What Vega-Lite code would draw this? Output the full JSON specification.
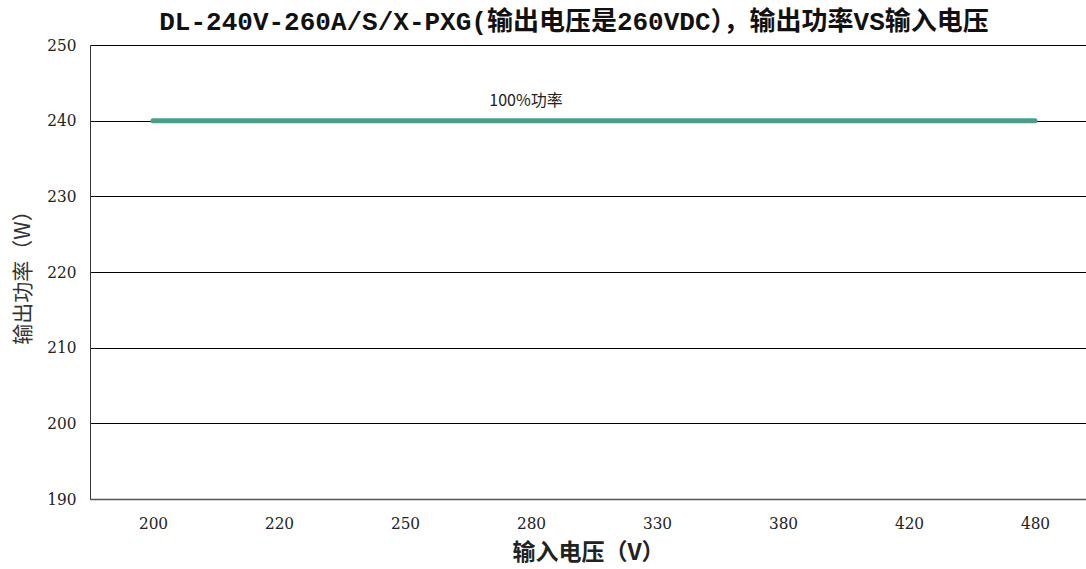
{
  "$schema": "https://vega.github.io/schema/vega-lite/v6.json",
  "autosize": "none",
  "width": 996,
  "height": 454,
  "padding": {"left": 90, "top": 45, "right": 0, "bottom": 70},
  "background": "white",
  "title": {
    "text": "DL-240V-260A/S/X-PXG(输出电压是260VDC），输出功率VS输入电压",
    "font": "Liberation Mono, Noto Sans CJK SC",
    "fontSize": 26,
    "fontWeight": "bold",
    "color": "#111111",
    "anchor": "middle",
    "offset": 1,
    "dx": -14
  },
  "data": {
    "values": [
      {"vin": "200", "p": 240},
      {"vin": "220", "p": 240},
      {"vin": "250", "p": 240},
      {"vin": "280", "p": 240},
      {"vin": "330", "p": 240},
      {"vin": "380", "p": 240},
      {"vin": "420", "p": 240},
      {"vin": "480", "p": 240}
    ]
  },
  "config": {
    "view": {"stroke": null},
    "axis": {
      "labelFont": "DejaVu Serif Condensed, DejaVu Serif, Liberation Serif",
      "labelFontSize": 17,
      "labelColor": "#222222",
      "titleFont": "Noto Sans CJK SC",
      "titleColor": "#222222"
    }
  },
  "encoding": {
    "x": {
      "field": "vin",
      "type": "ordinal",
      "sort": null,
      "scale": {"type": "point", "padding": 0.4524, "align": 0.5526},
      "axis": {
        "title": "输入电压（V）",
        "titleFontSize": 23,
        "titleFontWeight": "bold",
        "titlePadding": 10,
        "labelAngle": 0,
        "labelPadding": 16,
        "ticks": false,
        "domainColor": "#555555",
        "domainWidth": 1.5,
        "grid": false
      }
    },
    "y": {
      "field": "p",
      "type": "quantitative",
      "scale": {"domain": [190, 250], "nice": false, "zero": false},
      "axis": {
        "title": "输出功率（W）",
        "titleFontSize": 21,
        "titleFontWeight": "normal",
        "titleColor": "#333333",
        "titlePadding": 13,
        "values": [190, 200, 210, 220, 230, 240, 250],
        "ticks": false,
        "labelPadding": 14,
        "domainColor": "#333333",
        "grid": true,
        "gridColor": "#000000",
        "gridWidth": 1,
        "gridOpacity": 1
      }
    }
  },
  "layer": [
    {
      "mark": {"type": "line", "color": "#4a9e88", "strokeWidth": 5, "strokeCap": "round"}
    },
    {
      "transform": [{"filter": "datum.vin == '280'"}],
      "mark": {"type": "text", "text": "100%功率", "dy": -20, "font": "Noto Sans CJK SC", "fontSize": 16, "color": "#222222", "dx": -5}
    }
  ]
}
